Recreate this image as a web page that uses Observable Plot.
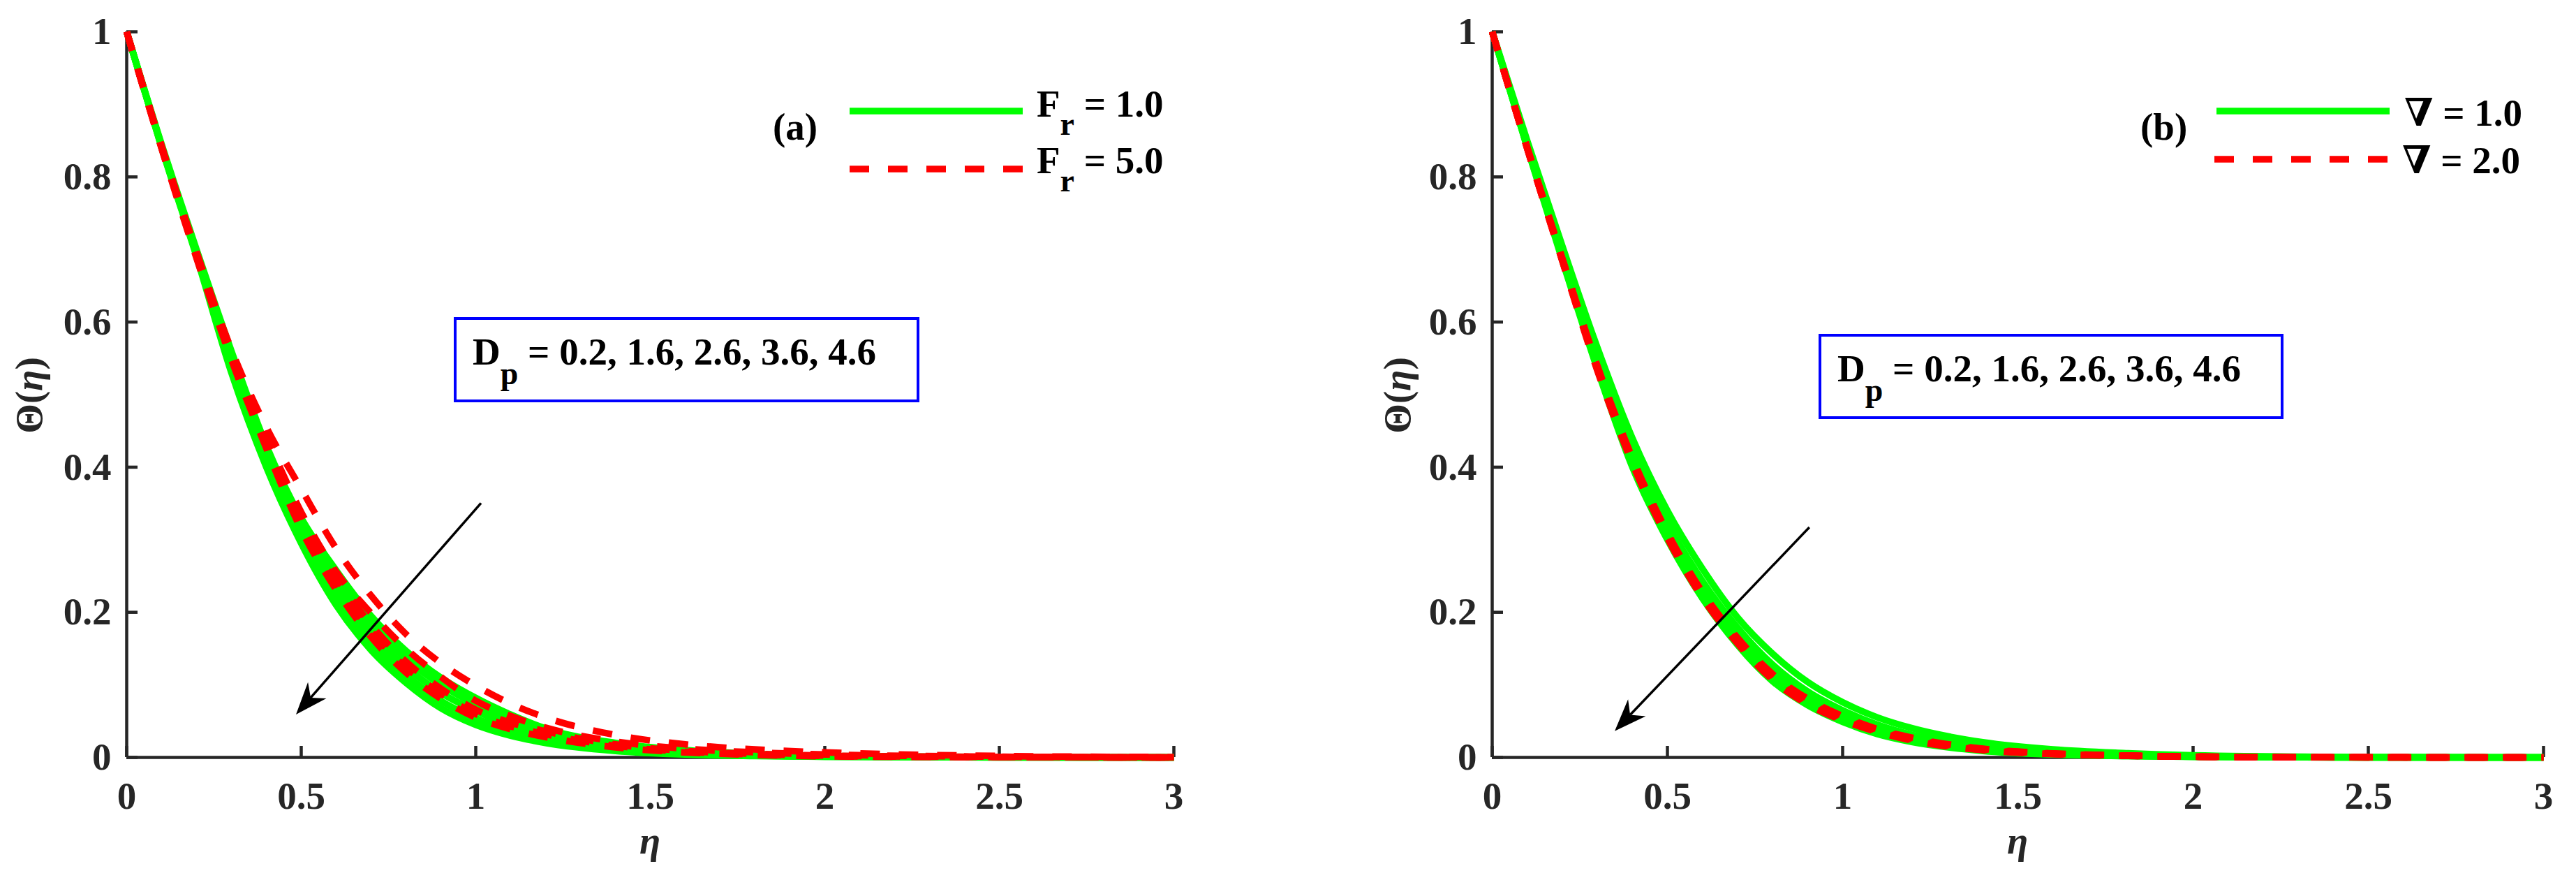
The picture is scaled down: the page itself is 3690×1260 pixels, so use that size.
<!DOCTYPE html>
<html>
<head>
<meta charset="utf-8">
<script src="https://cdn.jsdelivr.net/npm/d3@7"></script>
<script src="https://cdn.jsdelivr.net/npm/@observablehq/plot@0.6"></script>
<style>
  html, body { margin: 0; padding: 0; background: #fff; }
  #page { position: relative; width: 3690px; height: 1260px; overflow: hidden; background: #fff; }
  .panel { position: absolute; top: 0; width: 1845px; height: 1260px; }
  .panel svg { display: block; max-width: none; }
  text { white-space: pre; }
</style>
</head>
<body>
<div id="page">
  <div class="panel" id="pa" style="left:0px"></div>
  <div class="panel" id="pb" style="left:1845px"></div>
</div>
<script>
// ---------------- DATA ----------------
const ETA = [0, 0.1, 0.2, 0.3, 0.4, 0.5, 0.6, 0.7, 0.8, 0.9, 1.0, 1.1, 1.2, 1.4, 1.6, 1.8, 2.0, 2.5, 3.0];
const X_TICKS = [0, 0.5, 1, 1.5, 2, 2.5, 3];
const Y_TICKS = [0, 0.2, 0.4, 0.6, 0.8, 1];
const DP_VALUES = ["0.2", "1.6", "2.6", "3.6", "4.6"];

// Panel (a): F_r = 1.0 (solid)
const A_FR1_DP02 = [1, 0.845, 0.700, 0.560, 0.430, 0.330, 0.258, 0.195, 0.147, 0.110, 0.082, 0.059, 0.040, 0.020, 0.010, 0.005, 0.002, 0.0005, 0];
const A_FR1_DP16 = [1, 0.843, 0.697, 0.553, 0.421, 0.320, 0.245, 0.183, 0.136, 0.100, 0.073, 0.051, 0.034, 0.016, 0.008, 0.004, 0.0015, 0.0003, 0];
const A_FR1_DP26 = [1, 0.842, 0.695, 0.545, 0.414, 0.312, 0.233, 0.171, 0.125, 0.089, 0.064, 0.044, 0.029, 0.014, 0.007, 0.003, 0.0013, 0.0002, 0];
const A_FR1_DP36 = [1, 0.841, 0.692, 0.537, 0.407, 0.303, 0.221, 0.159, 0.114, 0.078, 0.054, 0.037, 0.025, 0.011, 0.005, 0.0025, 0.001, 0.0001, 0];
const A_FR1_DP46 = [1, 0.840, 0.690, 0.530, 0.400, 0.295, 0.210, 0.148, 0.103, 0.068, 0.045, 0.030, 0.020, 0.009, 0.004, 0.002, 0.001, 0, 0];
// Panel (a): F_r = 5.0 (dashed)
const A_FR5_DP02 = [1, 0.843, 0.697, 0.562, 0.455, 0.370, 0.288, 0.223, 0.170, 0.130, 0.099, 0.074, 0.055, 0.031, 0.018, 0.011, 0.007, 0.002, 0.0005];
const A_FR5_DP16 = [1, 0.842, 0.694, 0.558, 0.442, 0.338, 0.256, 0.199, 0.150, 0.111, 0.078, 0.057, 0.041, 0.022, 0.012, 0.007, 0.004, 0.001, 0];
const A_FR5_DP26 = [1, 0.841, 0.692, 0.556, 0.436, 0.328, 0.249, 0.183, 0.132, 0.095, 0.066, 0.048, 0.036, 0.018, 0.009, 0.005, 0.0025, 0.0006, 0];
const A_FR5_DP36 = [1, 0.840, 0.690, 0.552, 0.432, 0.322, 0.240, 0.174, 0.124, 0.088, 0.060, 0.043, 0.032, 0.016, 0.008, 0.004, 0.002, 0.0005, 0];
const A_FR5_DP46 = [1, 0.839, 0.688, 0.548, 0.426, 0.314, 0.231, 0.166, 0.117, 0.081, 0.055, 0.039, 0.028, 0.014, 0.007, 0.0035, 0.0015, 0.0004, 0];

// Panel (b): nabla = 1.0 (solid)
const B_N1_DP02 = [1, 0.850, 0.705, 0.565, 0.440, 0.340, 0.260, 0.193, 0.143, 0.104, 0.076, 0.055, 0.040, 0.021, 0.011, 0.006, 0.003, 0.0005, 0];
const B_N1_DP16 = [1, 0.845, 0.696, 0.552, 0.423, 0.323, 0.243, 0.179, 0.128, 0.091, 0.065, 0.045, 0.031, 0.015, 0.007, 0.0035, 0.0017, 0.0002, 0];
const B_N1_DP26 = [1, 0.842, 0.690, 0.543, 0.412, 0.312, 0.231, 0.167, 0.117, 0.082, 0.057, 0.038, 0.025, 0.011, 0.005, 0.0025, 0.001, 0.0001, 0];
const B_N1_DP36 = [1, 0.841, 0.688, 0.539, 0.406, 0.306, 0.225, 0.161, 0.111, 0.077, 0.053, 0.035, 0.023, 0.010, 0.0045, 0.002, 0.001, 0, 0];
const B_N1_DP46 = [1, 0.840, 0.685, 0.535, 0.400, 0.300, 0.219, 0.155, 0.105, 0.072, 0.049, 0.032, 0.021, 0.009, 0.004, 0.002, 0.001, 0, 0];
// Panel (b): nabla = 2.0 (dashed)
const B_N2_DP02 = [1, 0.841, 0.688, 0.540, 0.413, 0.310, 0.228, 0.165, 0.115, 0.081, 0.057, 0.039, 0.027, 0.012, 0.0055, 0.0027, 0.0012, 0.0002, 0];
const B_N2_DP16 = [1, 0.840, 0.687, 0.538, 0.411, 0.308, 0.226, 0.163, 0.113, 0.079, 0.0555, 0.038, 0.026, 0.0115, 0.0052, 0.0026, 0.0011, 0.0002, 0];
const B_N2_DP26 = [1, 0.840, 0.686, 0.537, 0.409, 0.306, 0.224, 0.161, 0.111, 0.077, 0.054, 0.037, 0.025, 0.011, 0.005, 0.0025, 0.001, 0.0002, 0];
const B_N2_DP36 = [1, 0.839, 0.685, 0.535, 0.407, 0.304, 0.222, 0.159, 0.109, 0.075, 0.0525, 0.036, 0.024, 0.0105, 0.0048, 0.0024, 0.001, 0.0001, 0];
const B_N2_DP46 = [1, 0.839, 0.684, 0.533, 0.405, 0.302, 0.220, 0.157, 0.107, 0.073, 0.051, 0.035, 0.023, 0.010, 0.0045, 0.0022, 0.0009, 0.0001, 0];

// ---------------- STYLE / LAYOUT ----------------
const SERIF = "'Liberation Serif','Times New Roman',Times,serif";
const AXIS = "#262626";
const GREEN = "#00ff00";
const RED = "#ff0000";
const BLUE = "#0000ff";

function toRows(list, prefix) {
  return list.flatMap((vals, i) => ETA.map((e, j) => ({eta: e, theta: vals[j], series: prefix + DP_VALUES[i]})));
}

function addText(g, x, y, parts, o = {}) {
  const t = g.append("text")
    .attr("x", x).attr("y", y)
    .attr("font-family", o.family || SERIF)
    .attr("font-size", o.size || 55)
    .attr("font-weight", "bold")
    .attr("fill", o.fill || "#000")
    .attr("text-anchor", o.anchor || "start");
  if (o.transform) t.attr("transform", o.transform);
  for (const p of parts) {
    const s = t.append("tspan").text(p.t);
    if (p.dy) s.attr("dy", p.dy);
    if (p.size) s.attr("font-size", p.size);
    if (p.italic) s.attr("font-style", "italic");
    if (p.family) s.attr("font-family", p.family);
  }
  return t;
}

function drawArrow(g, sx, sy, a) {
  const x1 = sx(a.from[0]), y1 = sy(a.from[1]);
  const x2 = sx(a.to[0]), y2 = sy(a.to[1]);
  const dx = x2 - x1, dy = y2 - y1, L = Math.hypot(dx, dy);
  const ux = dx / L, uy = dy / L, nx = -uy, ny = ux;
  const HL = 46, HW = 17.5, NOTCH = 32;
  const bx = x2 - ux * HL, by = y2 - uy * HL;
  const qx = x2 - ux * NOTCH, qy = y2 - uy * NOTCH;
  g.append("line").attr("x1", x1).attr("y1", y1).attr("x2", qx).attr("y2", qy)
    .attr("stroke", "#000").attr("stroke-width", 3.5);
  g.append("path")
    .attr("d", `M${x2},${y2}L${bx + nx * HW},${by + ny * HW}L${qx},${qy}L${bx - nx * HW},${by - ny * HW}Z`)
    .attr("fill", "#000");
}

function buildPanel(cfg) {
  const green = toRows(cfg.solid, "s");
  const red = toRows(cfg.dashed, "d");
  const chart = Plot.plot({
    width: 1845, height: 1260,
    marginLeft: cfg.ml, marginRight: cfg.mr, marginTop: 45, marginBottom: 176,
    x: {domain: [0, 3]},
    y: {domain: [0, 1]},
    style: {fontFamily: SERIF, color: AXIS, background: "white", overflow: "visible"},
    marks: [
      Plot.ruleX([0], {stroke: AXIS, strokeWidth: 4.5}),
      Plot.ruleY([0], {stroke: AXIS, strokeWidth: 4.5}),
      Plot.axisX(X_TICKS, {tickSize: 16, dy: -16, tickFormat: () => "", label: null, strokeWidth: 4.5}),
      Plot.axisY(Y_TICKS, {tickSize: 16, dx: 16, tickFormat: () => "", label: null, strokeWidth: 4.5}),
      Plot.axisX(X_TICKS, {tickSize: 0, tickPadding: 34, fontSize: 55, fontWeight: "bold", label: null, tickFormat: d => String(d)}),
      Plot.axisY(Y_TICKS, {tickSize: 0, tickPadding: 22, fontSize: 55, fontWeight: "bold", label: null, tickFormat: d => String(d)}),
      Plot.line(green, {x: "eta", y: "theta", z: "series", stroke: GREEN, strokeWidth: 9.5,
        curve: "monotone-x", strokeLinecap: "butt", strokeLinejoin: "round"}),
      Plot.line(red, {x: "eta", y: "theta", z: "series", stroke: RED, strokeWidth: 9.5,
        curve: "monotone-x", strokeLinecap: "butt", strokeLinejoin: "round", strokeDasharray: "28,27"})
    ]
  });
  document.getElementById(cfg.el).appendChild(chart);
  const svg = d3.select(chart);
  const xs = chart.scale("x"), ys = chart.scale("y");
  const sx = d3.scaleLinear(xs.domain, xs.range);
  const sy = d3.scaleLinear(ys.domain, ys.range);
  const g = svg.append("g");

  drawArrow(g, sx, sy, cfg.arrow);

  // axis titles
  addText(g, 0, 0, [{t: "\u0398("}, {t: "\u03b7", italic: true}, {t: ")"}],
    {anchor: "middle", fill: AXIS, transform: `translate(${cfg.ylabX},566) rotate(-90)`});
  addText(g, (sx(0) + sx(3)) / 2, 1222, [{t: "\u03b7", italic: true}], {anchor: "middle", fill: AXIS});

  // panel label + legend
  const L = cfg.legend;
  addText(g, L.tagX, 200, [{t: L.tag}]);
  g.append("line").attr("x1", L.lx1).attr("x2", L.lx2).attr("y1", L.y1).attr("y2", L.y1)
    .attr("stroke", GREEN).attr("stroke-width", 9.5);
  g.append("line").attr("x1", L.lx1b).attr("x2", L.lx2b).attr("y1", L.y2).attr("y2", L.y2)
    .attr("stroke", RED).attr("stroke-width", 9.5).attr("stroke-dasharray", "28,27");
  addText(g, L.tx, L.tb1, L.text1);
  addText(g, L.tx2, L.tb2, L.text2);

  // D_p box
  const B = cfg.box;
  g.append("rect").attr("x", B.x).attr("y", B.y).attr("width", B.w).attr("height", B.h)
    .attr("fill", "white").attr("stroke", BLUE).attr("stroke-width", 4);
  addText(g, B.x + 25, B.y + 66, [
    {t: "D"}, {t: "p", dy: 28, size: 46}, {t: " = " + DP_VALUES.join(", "), dy: -28}
  ]);
}

buildPanel({
  el: "pa", ml: 181, mr: 164, ylabX: 60,
  solid: [A_FR1_DP02, A_FR1_DP16, A_FR1_DP26, A_FR1_DP36, A_FR1_DP46],
  dashed: [A_FR5_DP02, A_FR5_DP16, A_FR5_DP26, A_FR5_DP36, A_FR5_DP46],
  arrow: {from: [1.016, 0.350], to: [0.486, 0.0587]},
  legend: {
    tag: "(a)", tagX: 1107,
    lx1: 1217, lx2: 1465, y1: 159, lx1b: 1217, lx2b: 1465, y2: 242,
    tx: 1485, tb1: 167, tx2: 1485, tb2: 248,
    text1: [{t: "F"}, {t: "r", dy: 26, size: 46}, {t: " = 1.0", dy: -26}],
    text2: [{t: "F"}, {t: "r", dy: 26, size: 46}, {t: " = 5.0", dy: -26}]
  },
  box: {x: 652, y: 456, w: 663, h: 118}
});

buildPanel({
  el: "pb", ml: 292, mr: 47, ylabX: 175,
  solid: [B_N1_DP02, B_N1_DP16, B_N1_DP26, B_N1_DP36, B_N1_DP46],
  dashed: [B_N2_DP02, B_N2_DP16, B_N2_DP26, B_N2_DP36, B_N2_DP46],
  arrow: {from: [0.906, 0.3167], to: [0.3506, 0.0359]},
  legend: {
    tag: "(b)", tagX: 1221,
    lx1: 1330, lx2: 1578, y1: 159, lx1b: 1327, lx2b: 1575, y2: 228,
    tx: 1599, tb1: 180, tx2: 1596, tb2: 248,
    text1: [{t: "\u2207", family: "'DejaVu Serif',serif", size: 55}, {t: " = 1.0"}],
    text2: [{t: "\u2207", family: "'DejaVu Serif',serif", size: 55}, {t: " = 2.0"}]
  },
  box: {x: 762, y: 480, w: 662, h: 118}
});
</script>
</body>
</html>
